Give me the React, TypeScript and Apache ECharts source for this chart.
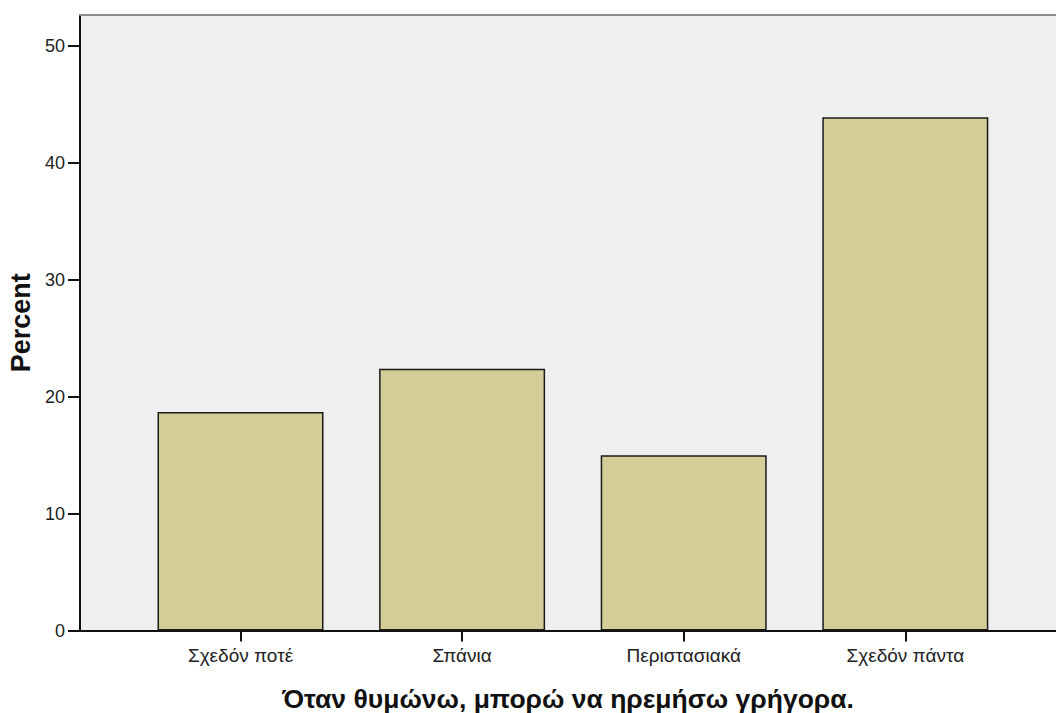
import React, { useEffect, useRef } from "react";
import * as echarts from "echarts";

const categories = ["Σχεδόν ποτέ", "Σπάνια", "Περιστασιακά", "Σχεδόν πάντα"];
const percents = [18.7, 22.4, 15.0, 43.9];
const yTicks = [0, 10, 20, 30, 40, 50];
const xTitle = "Όταν θυμώνω, μπορώ να ηρεμήσω γρήγορα.";
const yTitle = "Percent";

const FONT = "'Liberation Sans', Arial, sans-serif";

export default function App() {
  const ref = useRef<HTMLDivElement>(null);
  useEffect(() => {
    if (!ref.current) return;
    const chart = echarts.init(ref.current, null, { renderer: "svg" });
    const idx = categories.map((_, i) => i);
    chart.setOption({
      animation: false,
      textStyle: { fontFamily: FONT },
      grid: {
        left: 80,
        right: 0,
        top: 15,
        bottom: 82.5,
        containLabel: false,
        outerBoundsMode: "none",
        show: true,
        backgroundColor: "#efefef",
        borderWidth: 0,
      },
      xAxis: [
        {
          type: "value",
          min: -0.7243,
          max: 3.68,
          splitLine: { show: false },
          axisLine: { show: true, onZero: false, lineStyle: { color: "#111", width: 2 } },
          axisTick: { show: true, customValues: idx, length: 11, lineStyle: { color: "#111", width: 2 } },
          axisLabel: {
            customValues: idx,
            formatter: (v: number) => categories[Math.round(v)] ?? "",
            margin: 15,
            fontSize: 19,
            color: "#222",
            fontFamily: FONT,
          },
          name: xTitle,
          nameLocation: "middle",
          nameGap: 55,
          nameTextStyle: { fontSize: 26.5, fontWeight: "bold", color: "#111", fontFamily: FONT },
        },
        {
          type: "value",
          position: "top",
          min: -0.7243,
          max: 3.68,
          splitLine: { show: false },
          axisLine: { show: true, onZero: false, lineStyle: { color: "#8c8c8c", width: 2 } },
          axisTick: { show: false },
          axisLabel: { show: false },
        },
      ],
      yAxis: {
        type: "value",
        min: 0,
        max: 52.65,
        interval: 10,
        splitLine: { show: false },
        axisLine: { show: true, onZero: false, lineStyle: { color: "#111", width: 2 } },
        axisTick: { show: true, customValues: yTicks, length: 12, lineStyle: { color: "#111", width: 2 } },
        axisLabel: {
          customValues: yTicks,
          margin: 15,
          fontSize: 18,
          color: "#222",
          fontFamily: FONT,
        },
        name: yTitle,
        nameLocation: "middle",
        nameGap: 43.5,
        nameTextStyle: { fontSize: 27, fontWeight: "bold", color: "#111", fontFamily: FONT },
      },
      series: [
        {
          type: "bar",
          xAxisIndex: 0,
          data: percents.map((p, i) => [i, p]),
          barWidth: 166,
          itemStyle: { color: "#d3ce97", borderColor: "#1a1a1a", borderWidth: 1.5 },
        },
      ],
    });
    return () => chart.dispose();
  }, []);
  return (
    <div
      ref={ref}
      style={{ position: "fixed", left: 0, top: 0, width: 1056, height: 713, background: "#fff" }}
    />
  );
}
